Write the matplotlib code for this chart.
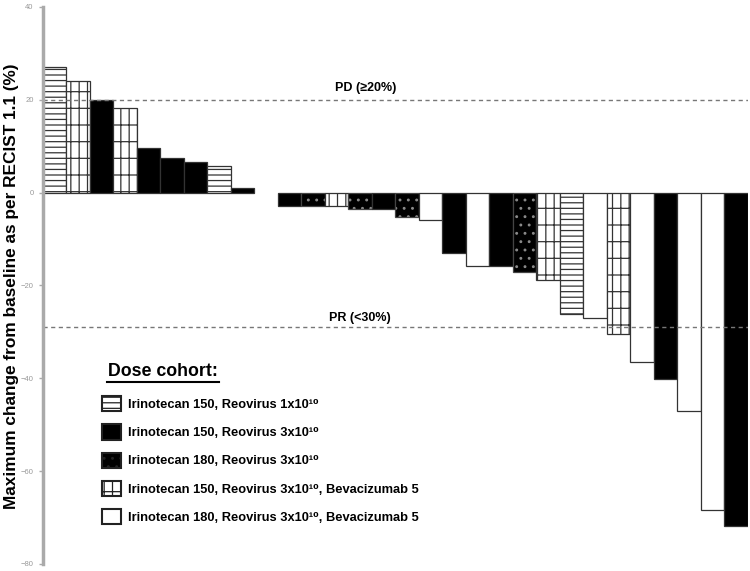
import matplotlib
matplotlib.use('Agg')
import matplotlib.pyplot as plt
from matplotlib.patches import Patch
from matplotlib.lines import Line2D

# cohort codes: 1..5 as in the legend
cohort_labels = [
    'Irinotecan 150, Reovirus 1x10¹⁰',
    'Irinotecan 150, Reovirus 3x10¹⁰',
    'Irinotecan 180, Reovirus 3x10¹⁰',
    'Irinotecan 150, Reovirus 3x10¹⁰, Bevacizumab 5',
    'Irinotecan 180, Reovirus 3x10¹⁰, Bevacizumab 5',
]

pos_values = [27.1, 24.1, 20.0, 18.3, 9.7, 7.5, 6.7, 5.8, 0.9]
pos_cohorts = [1, 4, 2, 4, 2, 2, 2, 1, 2]

neg_values = [-2.8, -2.8, -2.8, -3.6, -3.6, -5.3, -5.9, -13.1, -15.7, -15.9,
              -17.1, -18.9, -26.2, -27.1, -30.5, -36.5, -40.2, -47.1, -68.4, -71.8]
neg_cohorts = [2, 3, 4, 3, 2, 3, 5, 2, 5, 2, 3, 4, 1, 5, 4, 5, 2, 5, 5, 2]

yticks = [40, 20, 0, -20, -40, -60, -80]
pd_level = 20
pr_level = -29

styles = {
    1: dict(facecolor='white', hatch='---'),
    2: dict(facecolor='black', hatch=None),
    3: dict(facecolor='black', hatch='..'),
    4: dict(facecolor='white', hatch='||-'),
    5: dict(facecolor='white', hatch=None),
}

fam = ['Liberation Sans', 'DejaVu Sans']
plt.rcParams['font.family'] = fam
plt.rcParams['hatch.linewidth'] = 0.9

values = pos_values + neg_values
cohorts = pos_cohorts + neg_cohorts
# one empty slot between the two groups
xpos = list(range(len(pos_values))) + [len(pos_values) + 1 + i for i in range(len(neg_values))]

fig = plt.figure(figsize=(7.5, 5.71), dpi=100)
ax = fig.add_axes([0.057, 0.0123, 0.94, 0.9755])

for x, v, c in zip(xpos, values, cohorts):
    st = styles[c]
    if c == 3:
        # grey dots on black
        ax.bar(x, v, width=1, align='edge', color='black', edgecolor='#8a8a8a',
               hatch=st['hatch'], linewidth=0)
        ax.bar(x, v, width=1, align='edge', fill=False, edgecolor='#444444', linewidth=0.9)
    else:
        ax.bar(x, v, width=1, align='edge', facecolor=st['facecolor'], edgecolor='#333333',
               hatch=st['hatch'], linewidth=0.9)

n_slots = len(pos_values) + 1 + len(neg_values)
ax.set_xlim(0, n_slots)
ax.set_ylim(-80, 40)

ax.axhline(pd_level, color='#777777', lw=1, ls=(0, (3, 2.5)))
ax.axhline(pr_level, color='#777777', lw=1, ls=(0, (3, 2.5)))
ax.text(13.75, pd_level + 2.6, 'PD (≥20%)', fontsize=9, fontweight='bold', ha='center', va='center')
ax.text(13.5, pr_level + 1.9, 'PR (<30%)', fontsize=9, fontweight='bold', ha='center', va='center')

for s in ['top', 'right', 'bottom']:
    ax.spines[s].set_visible(False)
ax.spines['left'].set_color('#aaaaaa')
ax.spines['left'].set_linewidth(2.5)
ax.set_xticks([])
ax.set_yticks(yticks)
ax.tick_params(axis='y', colors='#aaaaaa', labelcolor='#999999', labelsize=5.5, length=3, width=1)

fig.text(0.015, 0.499, 'Maximum change from baseline as per RECIST 1.1 (%)', rotation=90,
         fontsize=12.4, fontweight='bold', ha='center', va='center')

# legend
fig.text(108 / 750, 1 - 372 / 571, 'Dose cohort:', fontsize=12.8, fontweight='bold',
         ha='left', va='center')
fig.add_artist(Line2D([107 / 750, 219 / 750], [1 - 382 / 571, 1 - 382 / 571],
                      transform=fig.transFigure, color='black', lw=1.5))

handles = []
for i, lab in enumerate(cohort_labels):
    st = styles[i + 1]
    if i + 1 == 3:
        handles.append(Patch(facecolor='black', edgecolor='#222222', hatch='..', linewidth=1.5, label=lab))
    else:
        handles.append(Patch(facecolor=st['facecolor'], edgecolor='#222222', hatch=st['hatch'],
                             linewidth=1.5, label=lab))
leg = ax.legend(handles=handles, loc='upper left', bbox_to_anchor=(102 / 750, 1 - 396 / 571),
                bbox_transform=fig.transFigure, frameon=False, borderpad=0, borderaxespad=0,
                handlelength=1.45, handleheight=1.45, handletextpad=0.55, labelspacing=1.0,
                prop={'family': fam, 'weight': 'bold', 'size': 9.3})

fig.savefig('out.png', dpi=100)
